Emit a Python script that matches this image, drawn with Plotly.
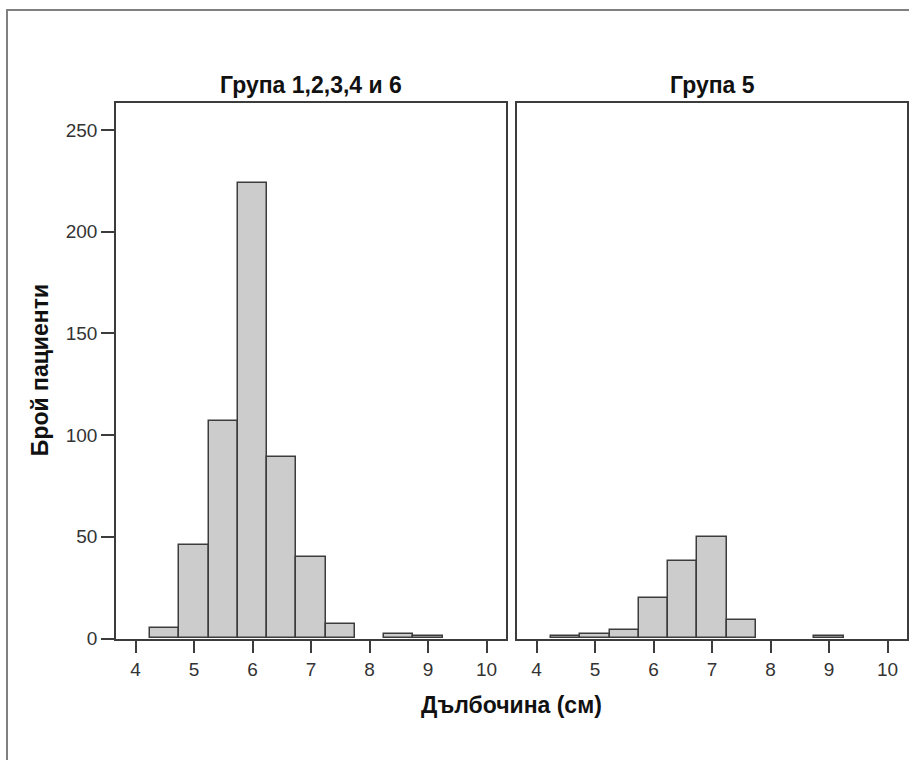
import plotly.graph_objects as go

# Data
bin_centers = [4.5, 5.0, 5.5, 6.0, 6.5, 7.0, 7.5, 8.0, 8.5, 9.0]
group_a_counts = [5, 46, 107, 224, 89, 40, 7, 0, 2, 1]
group_b_counts = [1, 2, 4, 20, 38, 50, 9, 0, 0, 1]
panel_titles = ["Група 1,2,3,4 и 6", "Група 5"]
x_title = "Дълбочина (см)"
y_title = "Брой пациенти"
x_ticks = [4, 5, 6, 7, 8, 9, 10]
y_ticks = [0, 50, 100, 150, 200, 250]

W, H = 909, 771
S = 0.988  # vertical compensation
def px(x):
    return x / W
def py(y):
    return (H - y / S) / H

FONT = "Liberation Sans, Arial, sans-serif"
LINE = "#3c3c3c"
fig = go.Figure()

for i, counts in enumerate([group_a_counts, group_b_counts]):
    xs = [c for c, n in zip(bin_centers, counts) if n > 0]
    ys = [n for n in counts if n > 0]
    fig.add_trace(go.Bar(
        x=xs, y=ys, width=0.5,
        marker=dict(color="#cccccc", line=dict(color=LINE, width=1.5)),
        xaxis="x" if i == 0 else "x2", yaxis="y" if i == 0 else "y2",
        showlegend=False, hoverinfo="x+y",
    ))

xcommon = dict(range=[3.6667, 10.3333], tickvals=x_ticks, ticks="outside", ticklen=13,
               tickwidth=1.5, tickcolor=LINE, showline=True, linecolor=LINE, linewidth=1.5,
               mirror=True, showgrid=False, zeroline=False,
               tickfont=dict(family=FONT, size=19, color="#333333"))
ycommon = dict(range=[0, 263.2], showline=True, linecolor=LINE, linewidth=1.5, mirror=True,
               showgrid=False, zeroline=False)

fig.update_layout(
    width=W, height=H, margin=dict(l=0, r=0, t=0, b=0),
    paper_bgcolor="white", plot_bgcolor="white", bargap=0,
    xaxis=dict(domain=[px(116), px(506)], anchor="y", **xcommon),
    xaxis2=dict(domain=[px(517), px(907)], anchor="y2", **xcommon),
    yaxis=dict(domain=[py(640), py(103.3)], anchor="x", tickvals=y_ticks, ticks="outside",
               ticklen=13, tickwidth=1.5, tickcolor=LINE,
               tickfont=dict(family=FONT, size=19, color="#333333"), **ycommon),
    yaxis2=dict(domain=[py(640), py(103.3)], anchor="x2", showticklabels=False, ticks="",
                **ycommon),
)

def note(text, x, y, size, angle=0):
    fig.add_annotation(text=text, x=px(x), y=py(y), xref="paper", yref="paper",
                       xanchor="center", yanchor="middle", textangle=angle, showarrow=False,
                       font=dict(family=FONT, size=size, color="#111111", weight="bold"))

note(panel_titles[0], 311, 85, 23)
note(panel_titles[1], 712, 85, 23)
note(x_title, 511, 707, 23)
note(y_title, 40, 371, 23, angle=-90)

fig.add_shape(type="path", xref="paper", yref="paper",
              path=f"M {px(7)} 0 L {px(7)} {py(10)} L {px(909)} {py(10)}",
              line=dict(color="#808080", width=2))

fig.write_html("out.html", config={"displayModeBar": False},
               post_script="document.body.style.margin='0';document.body.style.overflow='hidden';")
